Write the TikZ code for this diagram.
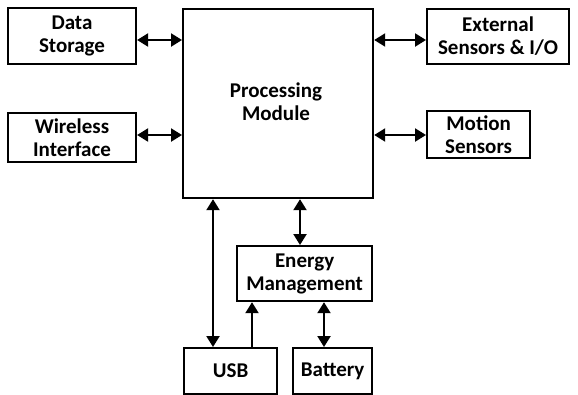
\documentclass[tikz,border=0pt]{standalone}
\usepackage{fontspec}
\setmainfont{Carlito}
\usetikzlibrary{arrows.meta}
\begin{document}
\begin{tikzpicture}[x=1pt,y=-1pt,
  blk/.style={draw,line width=2.2pt,align=center,font=\bfseries\fontsize{21}{23}\selectfont,inner sep=0pt},
  link/.style={line width=2.2pt,{Triangle[length=11pt,width=13pt]}-{Triangle[length=11pt,width=13pt]}},
  uplink/.style={line width=2.2pt,-{Triangle[length=11pt,width=13pt]}}]
\useasboundingbox (0,0) rectangle (578,394);
\fill[white] (0,0) rectangle (578,394);
\node[blk,minimum width=128pt,minimum height=56pt] (ds) at (72,36) {Data\\Storage};
\node[blk,minimum width=128pt,minimum height=49pt] (wi) at (72,137.5) {Wireless\\Interface};
\node[blk,minimum width=190pt,minimum height=189pt,anchor=north west] (pm) at (182,8) {};
\node[font=\bfseries\fontsize{21}{23}\selectfont,align=center] (pmt) at (276,102) {Processing\\Module};
\node[blk,minimum width=142pt,minimum height=55pt,anchor=north west] (ext) at (426,8) {External\\Sensors \& I/O};
\node[blk,minimum width=103pt,minimum height=47pt,anchor=north west] (ms) at (426,110) {Motion\\Sensors};
\node[blk,minimum width=135pt,minimum height=55pt,anchor=north west] (em) at (236,245) {Energy\\Management};
\node[blk,minimum width=93pt,minimum height=46pt,anchor=north west] (usb) at (183,347) {USB};
\node[blk,minimum width=79pt,minimum height=46pt,anchor=north west] (bat) at (292,347) {Battery};
\draw[link] (ds.east |- 0,40) -- (pm.west |- 0,40);
\draw[link] (wi.east |- 0,135) -- (pm.west |- 0,135);
\draw[link] (pm.east |- 0,40) -- (ext.west |- 0,40);
\draw[link] (pm.east |- 0,135) -- (ms.west |- 0,135);
\draw[link] (pm.south -| 213,0) -- (usb.north -| 213,0);
\draw[link] (pm.south -| 300,0) -- (em.north -| 300,0);
\draw[uplink] (usb.north -| 252,0) -- (em.south -| 252,0);
\draw[link] (em.south -| 324,0) -- (bat.north -| 324,0);
\end{tikzpicture}
\end{document}
